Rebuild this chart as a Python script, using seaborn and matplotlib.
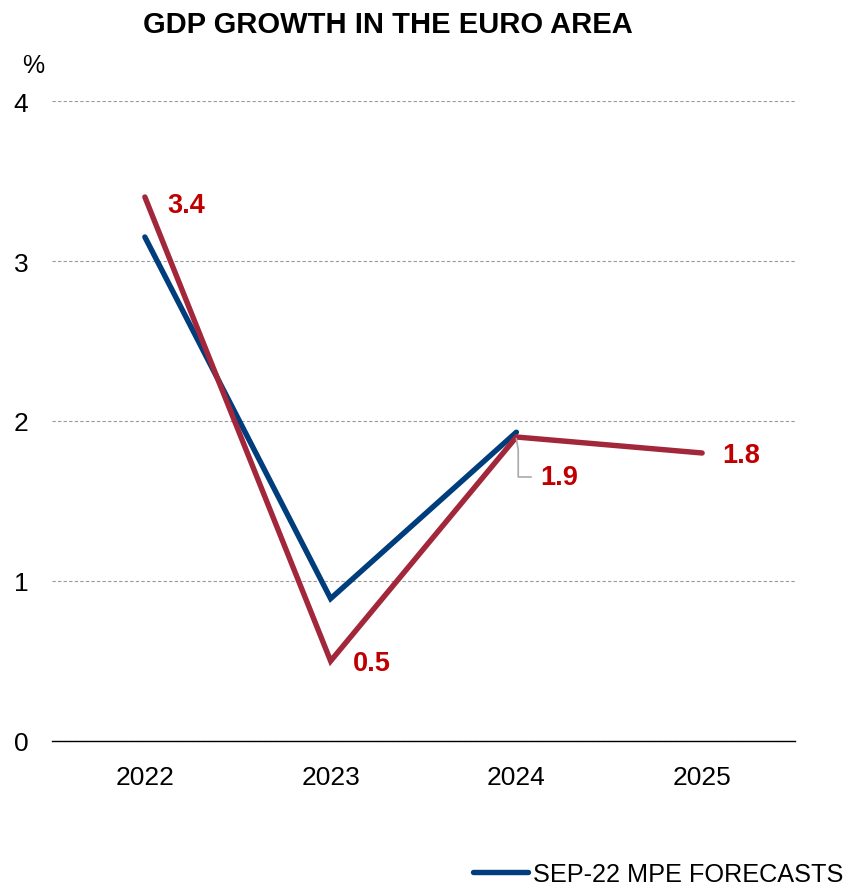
import pandas as pd
import seaborn as sns
import matplotlib.pyplot as plt

# Chart data
years = ["2022", "2023", "2024", "2025"]
sep22_values = [3.15, 0.89, 1.93, None]
dec22_values = [3.4, 0.5, 1.9, 1.8]
label_text = ["3.4", "0.5", "1.9", "1.8"]
y_ticks = [0, 1, 2, 3, 4]

BLUE = "#003d7c"
RED = "#a3273a"
LABEL_RED = "#c00000"

sns.set_style("white")
plt.rcParams["font.family"] = ["Liberation Sans", "DejaVu Sans"]
plt.rcParams["text.color"] = "black"
plt.rcParams["xtick.color"] = "black"
plt.rcParams["ytick.color"] = "black"

df = pd.DataFrame({
    "year": years * 2,
    "growth": sep22_values + dec22_values,
    "series": ["SEP-22 MPE FORECASTS"] * 4 + ["DEC-22 MPE FORECASTS"] * 4,
})

fig = plt.figure(figsize=(8.48, 8.87), dpi=100)
ax = fig.add_axes([52 / 848, 1 - 742 / 887, 743 / 848, 640 / 887])

sns.lineplot(data=df.dropna(), x="year", y="growth", hue="series",
             palette={"SEP-22 MPE FORECASTS": BLUE, "DEC-22 MPE FORECASTS": RED},
             linewidth=3.9, sort=False, ax=ax, legend=False)
for line in ax.lines:
    line.set_solid_capstyle("round")
    line.set_solid_joinstyle("miter")

ax.set_xlim(-0.5, 3.5)
ax.set_ylim(0, 4)
ax.set_yticks(y_ticks)
ax.set_xlabel("")
ax.set_ylabel("")
ax.yaxis.grid(True, color="#999999", linestyle=(0, (3, 2)), linewidth=0.8)
ax.set_axisbelow(True)
for side in ["top", "right", "left"]:
    ax.spines[side].set_visible(False)
ax.spines["bottom"].set_color("black")
ax.spines["bottom"].set_linewidth(1.0)
ax.tick_params(axis="both", length=0, labelsize=19, labelcolor="black")
ax.tick_params(axis="y", pad=17)
ax.tick_params(axis="x", pad=17)

# data labels
offsets = [(0.12, -0.05), (0.12, -0.01), (0.13, -0.25), (0.11, -0.01)]
for i, (txt, (dx, dy)) in enumerate(zip(label_text, offsets)):
    ax.text(i + dx, dec22_values[i] + dy, txt, color=LABEL_RED,
            fontsize=19.5, fontweight="bold", va="center", ha="left")

# leader line for 1.9
ax.plot([2, 2.01, 2.01, 2.08], [1.89, 1.82, 1.65, 1.65], color="#aaaaaa", linewidth=1.2)

fig.text(33 / 848, 1 - 66 / 887, "%", fontsize=18, ha="center", va="center")
fig.text(388 / 848, 1 - 25 / 887, "GDP GROWTH IN THE EURO AREA",
         fontsize=21, fontweight="bold", ha="center", va="center")

# legend
handle = plt.Line2D([], [], color=BLUE, linewidth=3.9, solid_capstyle="round")
fig.legend([handle], ["SEP-22 MPE FORECASTS"], loc="lower right",
           bbox_to_anchor=(1.006, -0.011), frameon=False, fontsize=18.2,
           handlelength=2.15, handletextpad=0.2, borderaxespad=0)

fig.savefig("out.png", dpi=100)
